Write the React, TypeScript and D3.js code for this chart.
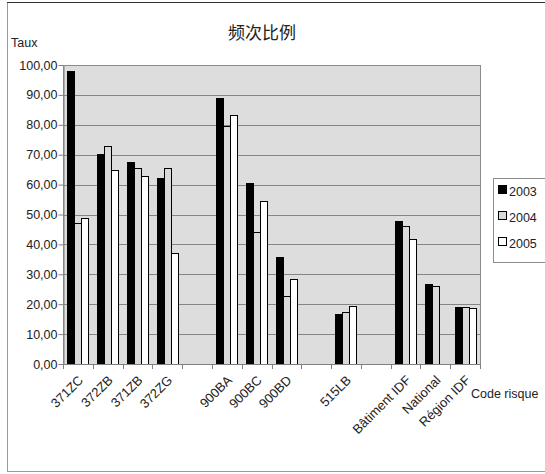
import React, { useEffect, useRef } from 'react'
import * as d3 from 'd3'

// categories, blanks are the empty slots in the original chart
const categories = ['371ZC', '372ZB', '371ZB', '372ZG', ' ', '900BA', '900BC', '900BD', '  ', '515LB', '   ', 'Bâtiment IDF', 'National', 'Région IDF']
const years = ['2003', '2004', '2005']
const values2003 = [98.1, 70.3, 67.4, 62.1, null, 88.8, 60.6, 35.7, null, 16.7, null, 47.8, 26.9, 18.9]
const values2004 = [47.0, 73.0, 65.4, 65.4, null, 79.7, 44.1, 22.8, null, 17.4, null, 46.1, 26.0, 18.9]
const values2005 = [48.8, 65.0, 62.8, 37.2, null, 83.2, 54.4, 28.3, null, 19.4, null, 41.7, null, 18.7]
const yTicks = [0, 10, 20, 30, 40, 50, 60, 70, 80, 90, 100]

const App = () => {
  const ref = useRef<SVGSVGElement>(null)

  useEffect(() => {
    const width = 545
    const plot = { left: 63, right: 480, top: 65, bottom: 364 }
    const fills: Record<string, string> = { '2003': '#000000', '2004': '#d9d9d9', '2005': '#ffffff' }
    const series = [values2003, values2004, values2005]
    const font = 'Arial, "Liberation Sans", sans-serif'

    const svg = d3.select(ref.current)
    svg.selectAll('*').remove()

    // frame of the chart
    svg.append('rect')
      .attr('x', 7.5).attr('y', 2.5)
      .attr('width', width).attr('height', 469)
      .attr('fill', '#ffffff')
      .attr('stroke', '#9a9a9a')
    svg.append('line')
      .attr('x1', 7).attr('x2', width)
      .attr('y1', 2.5).attr('y2', 2.5)
      .attr('stroke', '#333333')

    const x0 = d3.scaleBand()
      .domain(categories)
      .range([plot.left, plot.right])

    const x1 = d3.scaleBand()
      .domain(years)
      .range([0, x0.bandwidth()])
      .paddingOuter(0.63)

    const y = d3.scaleLinear()
      .domain([0, 100])
      .range([plot.bottom, plot.top])

    svg.append('rect')
      .attr('x', plot.left).attr('y', plot.top)
      .attr('width', plot.right - plot.left)
      .attr('height', plot.bottom - plot.top)
      .attr('fill', '#dddddd')

    // grid lines
    svg.append('g')
      .selectAll('line')
      .data(yTicks.filter(d => d > 0 && d < 100))
      .join('line')
      .attr('x1', plot.left).attr('x2', plot.right)
      .attr('y1', d => Math.round(y(d)) + 0.5)
      .attr('y2', d => Math.round(y(d)) + 0.5)
      .attr('stroke', '#858585')

    svg.append('rect')
      .attr('x', plot.left + 0.5).attr('y', plot.top + 0.5)
      .attr('width', plot.right - plot.left)
      .attr('height', plot.bottom - plot.top)
      .attr('fill', 'none')
      .attr('stroke', '#8c8c8c')

    // bars
    const bars = svg.append('g')
    years.forEach((yr, si) => {
      bars.append('g')
        .selectAll('rect')
        .data(categories.map((c, i) => ({ c, v: series[si][i] })).filter(d => d.v !== null))
        .join('rect')
        .attr('x', d => Math.round((x0(d.c) as number) + (x1(yr) as number)) + 0.5)
        .attr('y', d => Math.round(y(d.v as number)) + 0.5)
        .attr('width', Math.round(x1.bandwidth()))
        .attr('height', d => Math.round(y(0) - y(d.v as number)))
        .attr('fill', fills[yr])
        .attr('stroke', '#000000')
        .attr('stroke-width', 1)
    })

    // y axis
    const yAxis = svg.append('g')
      .attr('transform', `translate(${plot.left + 0.5},0)`)
      .call(d3.axisLeft(y).tickValues(yTicks).tickSize(5).tickSizeOuter(0)
        .tickFormat(d => d3.format('.2f')(d as number).replace('.', ',')))
    yAxis.select('.domain').attr('stroke', '#808080')
    yAxis.selectAll('.tick line').attr('stroke', '#808080')
    yAxis.selectAll('.tick text')
      .attr('font-family', font)
      .attr('font-size', 12.5)
      .attr('fill', '#222222')
      .attr('x', -6)

    // x axis ticks at slot boundaries
    const xAxis = svg.append('g')
    xAxis.append('line')
      .attr('x1', plot.left).attr('x2', plot.right)
      .attr('y1', plot.bottom + 0.5).attr('y2', plot.bottom + 0.5)
      .attr('stroke', '#808080')
    xAxis.selectAll('line.tick')
      .data(categories.map(c => x0(c) as number).concat([plot.right]))
      .join('line')
      .attr('class', 'tick')
      .attr('x1', d => Math.round(d) + 0.5).attr('x2', d => Math.round(d) + 0.5)
      .attr('y1', plot.bottom).attr('y2', plot.bottom + 5)
      .attr('stroke', '#808080')

    xAxis.selectAll('text')
      .data(categories.filter(c => c.trim() !== ''))
      .join('text')
      .attr('transform', d => `translate(${(x0(d) as number) + x0.bandwidth() / 2 + 6},${plot.bottom + 17}) rotate(-45)`)
      .attr('text-anchor', 'end')
      .attr('font-family', font)
      .attr('font-size', 13)
      .attr('fill', '#222222')
      .text(d => d)

    // titles
    svg.append('text')
      .attr('x', 262).attr('y', 39)
      .attr('text-anchor', 'middle')
      .attr('font-family', '"Noto Sans CJK SC", sans-serif')
      .attr('font-size', 17)
      .attr('fill', '#222222')
      .text('频次比例')

    svg.append('text')
      .attr('x', 11).attr('y', 47)
      .attr('font-family', font)
      .attr('font-size', 12.5)
      .attr('fill', '#222222')
      .text('Taux')

    svg.append('text')
      .attr('x', 471).attr('y', 398)
      .attr('font-family', font)
      .attr('font-size', 12.5)
      .attr('fill', '#222222')
      .text('Code risque')

    // legend
    const legend = svg.append('g')
    legend.append('rect')
      .attr('x', 493.5).attr('y', 178.5)
      .attr('width', 60).attr('height', 84)
      .attr('fill', '#ffffff')
      .attr('stroke', '#8c8c8c')
    const ly = d3.scalePoint().domain(years).range([191, 243])
    years.forEach(yr => {
      legend.append('rect')
        .attr('x', 498.5).attr('y', (ly(yr) as number) - 5.5)
        .attr('width', 8).attr('height', 8)
        .attr('fill', fills[yr])
        .attr('stroke', '#000000')
      legend.append('text')
        .attr('x', 509).attr('y', (ly(yr) as number) + 4.5)
        .attr('font-family', font)
        .attr('font-size', 12.5)
        .attr('fill', '#222222')
        .text(yr)
    })
  }, [])

  return (
    <svg ref={ref} width={545} height={474} style={{ position: 'absolute', left: 0, top: 0 }} />
  )
}

export default App
